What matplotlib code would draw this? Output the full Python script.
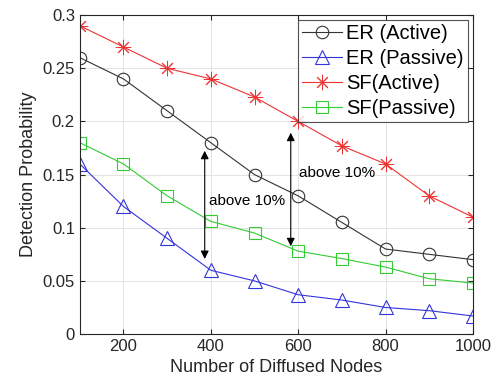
import matplotlib
matplotlib.use("Agg")
import matplotlib.pyplot as plt

plt.rcParams['font.family'] = ['Liberation Sans', 'DejaVu Sans']

nodes = [100, 200, 300, 400, 500, 600, 700, 800, 900, 1000]
er_active = [0.26, 0.24, 0.21, 0.18, 0.15, 0.13, 0.105, 0.08, 0.075, 0.07]
er_passive = [0.16, 0.12, 0.09, 0.06, 0.05, 0.037, 0.032, 0.025, 0.022, 0.017]
sf_active = [0.29, 0.27, 0.25, 0.24, 0.223, 0.2, 0.177, 0.16, 0.13, 0.11]
sf_passive = [0.18, 0.16, 0.13, 0.106, 0.095, 0.078, 0.071, 0.063, 0.052, 0.048]

fig = plt.figure(figsize=(5.02, 3.88), dpi=100)
ax = fig.add_axes([0.159, 0.139, 0.783, 0.822])

ax.plot(nodes, er_active, color='#333333', lw=0.8, marker='o', ms=9, mfc='none', mew=0.8, label='ER (Active)')
ax.plot(nodes, er_passive, color='#3333dd', lw=0.8, marker='^', ms=10, mfc='none', mew=0.8, label='ER (Passive)')
ax.plot(nodes, sf_active, color='#ee3333', lw=0.8, marker=(8, 2, 0), ms=11, mew=0.7, label='SF(Active)')
ax.plot(nodes, sf_passive, color='#33cc33', lw=0.8, marker='s', ms=8, mfc='none', mew=0.8, label='SF(Passive)')

ax.annotate('', xy=(386, 0.175), xytext=(386, 0.068),
            arrowprops=dict(arrowstyle='<|-|>', color='black', lw=0.8, mutation_scale=12))
ax.annotate('', xy=(583, 0.192), xytext=(583, 0.08),
            arrowprops=dict(arrowstyle='<|-|>', color='black', lw=0.8, mutation_scale=12))
ax.text(395, 0.121, 'above 10%', fontsize=11)
ax.text(603, 0.148, 'above 10%', fontsize=11)

ax.set_xlim(100, 1000)
ax.set_ylim(0, 0.3)
ax.set_xticks([200, 400, 600, 800, 1000])
ax.set_yticks([0, 0.05, 0.1, 0.15, 0.2, 0.25, 0.3])
ax.set_yticklabels(['0', '0.05', '0.1', '0.15', '0.2', '0.25', '0.3'])
ax.tick_params(direction='in', top=True, right=True, labelsize=12, colors='#262626')
ax.grid(True, color='#e3e3e3', lw=0.7)
for s in ax.spines.values():
    s.set_color('#262626')
    s.set_linewidth(0.8)

ax.set_xlabel('Number of Diffused Nodes', fontsize=13, color='#262626')
ax.set_ylabel('Detection Probability', fontsize=13, color='#262626')

leg = ax.legend(loc='upper right', fontsize=14.5, frameon=True, fancybox=False,
                borderpad=0.2, labelspacing=0.3, handlelength=2.0, handletextpad=0.2,
                borderaxespad=0.25)
leg.get_frame().set_edgecolor('#262626')
leg.get_frame().set_linewidth(0.8)

fig.savefig('out.png', dpi=100)
